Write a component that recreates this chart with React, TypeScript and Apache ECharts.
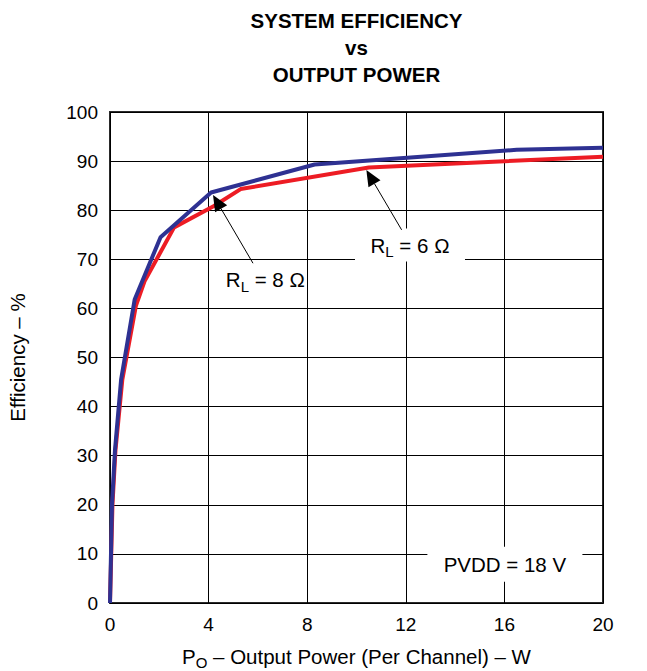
import React, { useEffect, useRef } from "react";
import * as echarts from "echarts";

const titleLines = ["SYSTEM EFFICIENCY", "vs", "OUTPUT POWER"];
const xTicks = { min: 0, max: 20, interval: 4 };
const yTicks = { min: 0, max: 100, interval: 10 };

// R_L = 8 Ω (blue)
const x8 = [0, 0.04, 0.08, 0.2, 0.45, 1.0, 2.05, 4.1, 8.3, 16.5, 20];
const y8 = [0, 10, 20, 31, 45.5, 61.8, 74.5, 83.6, 89.3, 92.3, 92.7];
// R_L = 6 Ω (red)
const x6 = [0, 0.05, 0.1, 0.22, 0.5, 1.05, 1.4, 2.6, 4.2, 5.3, 10.5, 20];
const y6 = [0, 10, 20, 31, 45.5, 60.5, 65.5, 76.5, 80.8, 84.3, 88.7, 90.9];

// annotations: label position, arrow tail, arrow tip (data coords)
const ann8 = { label: [6.3, 65.8], tail: [5.8, 69.2], tip: [4.18, 83.1] };
const ann6 = { label: [12.17, 72.9], tail: [11.83, 76.0], tip: [10.4, 88.2] };
const annPvdd = { label: [16.02, 7.9] };

const FONT = "Liberation Sans, Arial, Helvetica, sans-serif";

export default function App() {
  const ref = useRef<HTMLDivElement>(null);
  useEffect(() => {
    if (!ref.current) return;
    const chart = echarts.init(ref.current, undefined, { renderer: "svg" });
    const richSub = (size: number) => ({
      m: { fontSize: size, fontFamily: FONT, color: "#000", lineHeight: 28, verticalAlign: "middle" },
      s: { fontSize: Math.round(size * 0.72), fontFamily: FONT, color: "#000", lineHeight: 13, verticalAlign: "bottom" },
    });
    chart.setOption({
      animation: false,
      grid: {
        left: 110,
        right: 44,
        top: 112,
        bottom: 68,
        containLabel: false,
        outerBoundsMode: "none",
        show: true,
        borderColor: "#2a2a2a",
        borderWidth: 2,
        backgroundColor: "#fff",
      },
      xAxis: {
        type: "value",
        ...xTicks,
        axisLine: { show: false },
        axisTick: { show: false },
        splitLine: { show: true, lineStyle: { color: "#000", width: 1 } },
        axisLabel: { color: "#000", fontSize: 19, fontFamily: FONT, margin: 12 },
        name: "{m|P}{s|O}{m| – Output Power (Per Channel) – W}",
        nameLocation: "middle",
        nameGap: 39,
        nameTextStyle: { rich: richSub(20.5) },
      },
      yAxis: {
        type: "value",
        ...yTicks,
        axisLine: { show: false },
        axisTick: { show: false },
        splitLine: { show: true, lineStyle: { color: "#000", width: 1 } },
        axisLabel: { color: "#000", fontSize: 19, fontFamily: FONT, margin: 12 },
        name: "Efficiency – %",
        nameLocation: "middle",
        nameGap: 82,
        nameTextStyle: { color: "#000", fontSize: 20.5, fontFamily: FONT },
      },
      series: [
        {
          name: "RL6",
          type: "line",
          data: x6.map((x, i) => [x, y6[i]]),
          showSymbol: false,
          symbol: "none",
          lineStyle: { color: "#ed1c24", width: 4 },
          z: 3,
        },
        {
          name: "RL8",
          type: "line",
          data: x8.map((x, i) => [x, y8[i]]),
          showSymbol: false,
          symbol: "none",
          lineStyle: { color: "#2e3192", width: 4 },
          z: 4,
        },
      ],
    });

    const px = (p: number[]) => chart.convertToPixel({ gridIndex: 0 }, p) as number[];
    const arrow = (a: { tail: number[]; tip: number[] }) => {
      const t = px(a.tail);
      const h = px(a.tip);
      const dx = h[0] - t[0];
      const dy = h[1] - t[1];
      const len = Math.sqrt(dx * dx + dy * dy);
      const ux = dx / len;
      const uy = dy / len;
      const hl = 16;
      const hw = 7;
      const bx = h[0] - ux * hl;
      const by = h[1] - uy * hl;
      return [
        { type: "line", z: 100, shape: { x1: t[0], y1: t[1], x2: bx, y2: by }, style: { stroke: "#000", lineWidth: 1 } },
        {
          type: "polygon",
          z: 100,
          shape: { points: [[h[0], h[1]], [bx - uy * hw, by + ux * hw], [bx + uy * hw, by - ux * hw]] },
          style: { fill: "#000" },
        },
      ];
    };
    const lbl = (p: number[], text: string, w: number, hgt: number, rich: any) => {
      const c = px(p);
      return [
        { type: "rect", z: 99, shape: { x: c[0] - w / 2, y: c[1] - hgt / 2, width: w, height: hgt }, style: { fill: "#fff" } },
        {
          type: "text",
          z: 101,
          x: c[0],
          y: c[1],
          style: { text, align: "center", verticalAlign: "middle", rich, fontFamily: FONT, fontSize: 20.5, fill: "#000" },
        },
      ];
    };
    const plotCenter = (px([xTicks.min, 0])[0] + px([xTicks.max, 0])[0]) / 2;
    chart.setOption({
      graphic: [
        {
          type: "text",
          x: plotCenter,
          y: 7,
          style: {
            text: titleLines.join("\n"),
            align: "center",
            verticalAlign: "top",
            fontFamily: FONT,
            fontWeight: "bold",
            fontSize: 20.5,
            lineHeight: 27,
            fill: "#000",
          },
        },
        ...arrow(ann8),
        ...arrow(ann6),
        ...lbl(ann8.label, "{m|R}{s|L}{m| = 8 Ω}", 0, 0, richSub(20.5)),
        ...lbl(ann6.label, "{m|R}{s|L}{m| = 6 Ω}", 110, 33, richSub(20.5)),
        ...lbl(annPvdd.label, "PVDD = 18 V", 155, 35, undefined),
      ],
    });
    return () => chart.dispose();
  }, []);
  return <div ref={ref} style={{ position: "absolute", left: 0, top: 0, width: 647, height: 671 }} />;
}
